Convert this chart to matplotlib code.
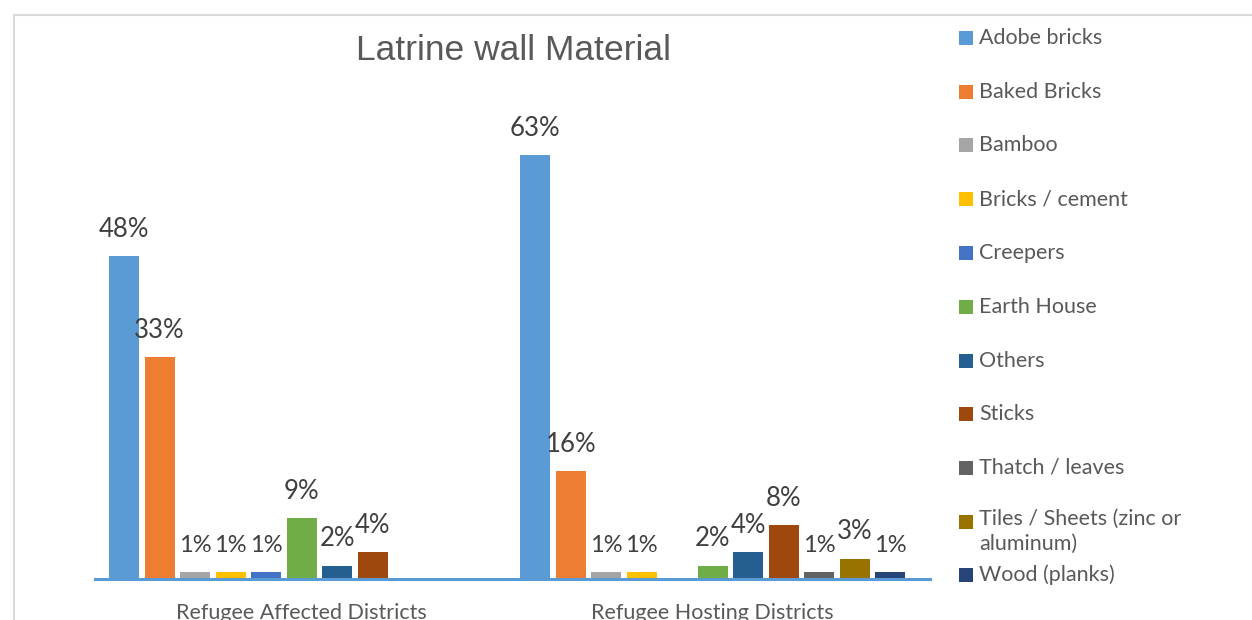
import numpy as np
import matplotlib
matplotlib.use("Agg")
import matplotlib.pyplot as plt
from matplotlib.patches import Rectangle

# данные
groups = ["Refugee Affected Districts", "Refugee Hosting Districts"]
materials = ["Adobe bricks", "Baked Bricks", "Bamboo", "Bricks / cement", "Creepers",
             "Earth House", "Others", "Sticks", "Thatch / leaves",
             "Tiles / Sheets (zinc or\naluminum)", "Wood (planks)"]
affected = [48, 33, 1, 1, 1, 9, 2, 4, 0, 0, 0]
hosting = [63, 16, 1, 1, 0, 2, 4, 8, 1, 3, 1]
colors = ["#5B9BD5", "#ED7D31", "#A5A5A5", "#FFC000", "#4472C4", "#70AD47",
          "#255E91", "#9E480E", "#636363", "#997300", "#264478"]

plt.rcParams['font.family'] = ['Lato', 'DejaVu Sans']
text_col = "#595959"

fig = plt.figure(figsize=(12.52, 6.2), dpi=100)
ax = fig.add_axes([95 / 1252, 41 / 620, 835 / 1252, 471 / 620])

group_step = 11.58
width = 0.845
values = np.array([affected, hosting])
for i, m in enumerate(materials):
    xs = np.arange(len(groups)) * group_step + i
    vals = values[:, i]
    ax.bar(xs, vals, width, color=colors[i], zorder=2)
    for x, v in zip(xs, vals):
        if v > 0:
            ax.text(x, v + 4.0, f"{v}%", ha="center", va="center",
                    fontsize=18.5 if v > 1 else 17, color="#404040")

ax.set_ylim(0, 70)
ax.set_xlim(-0.817, 22.70)
ax.set_yticks([])
centers = np.arange(len(groups)) * group_step + (len(materials) - 1) / 2
ax.set_xticks(centers)
ax.set_xticklabels(groups, fontsize=15.5, color=text_col)
ax.tick_params(axis="x", length=0, pad=17)
for s in ["top", "right", "left"]:
    ax.spines[s].set_visible(False)
ax.spines["bottom"].set_color("#5B9BD5")
ax.spines["bottom"].set_linewidth(2.2)
ax.spines["bottom"].set_zorder(3)

fig.text(513 / 1252, 1 - 51 / 620, "Latrine wall Material",
         ha="center", va="center", fontsize=25.5, color=text_col,
         family=['Liberation Sans', 'DejaVu Sans'])

# легенда вручную
row_y = [38, 92, 145, 199, 253, 307, 361, 414, 468, 522, 575]
for i, m in enumerate(materials):
    y = row_y[i]
    fig.patches.append(Rectangle((959 / 1252, 1 - (y + 7) / 620), 14 / 1252, 14 / 620,
                                 transform=fig.transFigure, facecolor=colors[i],
                                 edgecolor="none"))
    if "\n" in m:
        fig.text(979 / 1252, 1 - (y - 13) / 620, m, ha="left", va="top",
                 fontsize=15.5, color=text_col, linespacing=1.3)
    else:
        fig.text(979 / 1252, 1 - y / 620, m, ha="left", va="center",
                 fontsize=15.5, color=text_col)

# рамка
fig.patches.append(Rectangle((14 / 1252, -0.05), 1.1, 1 - 15 / 620 + 0.05,
                             transform=fig.transFigure, fill=False,
                             edgecolor="#D9D9D9", linewidth=1.5))

fig.savefig("out.png", dpi=100)
